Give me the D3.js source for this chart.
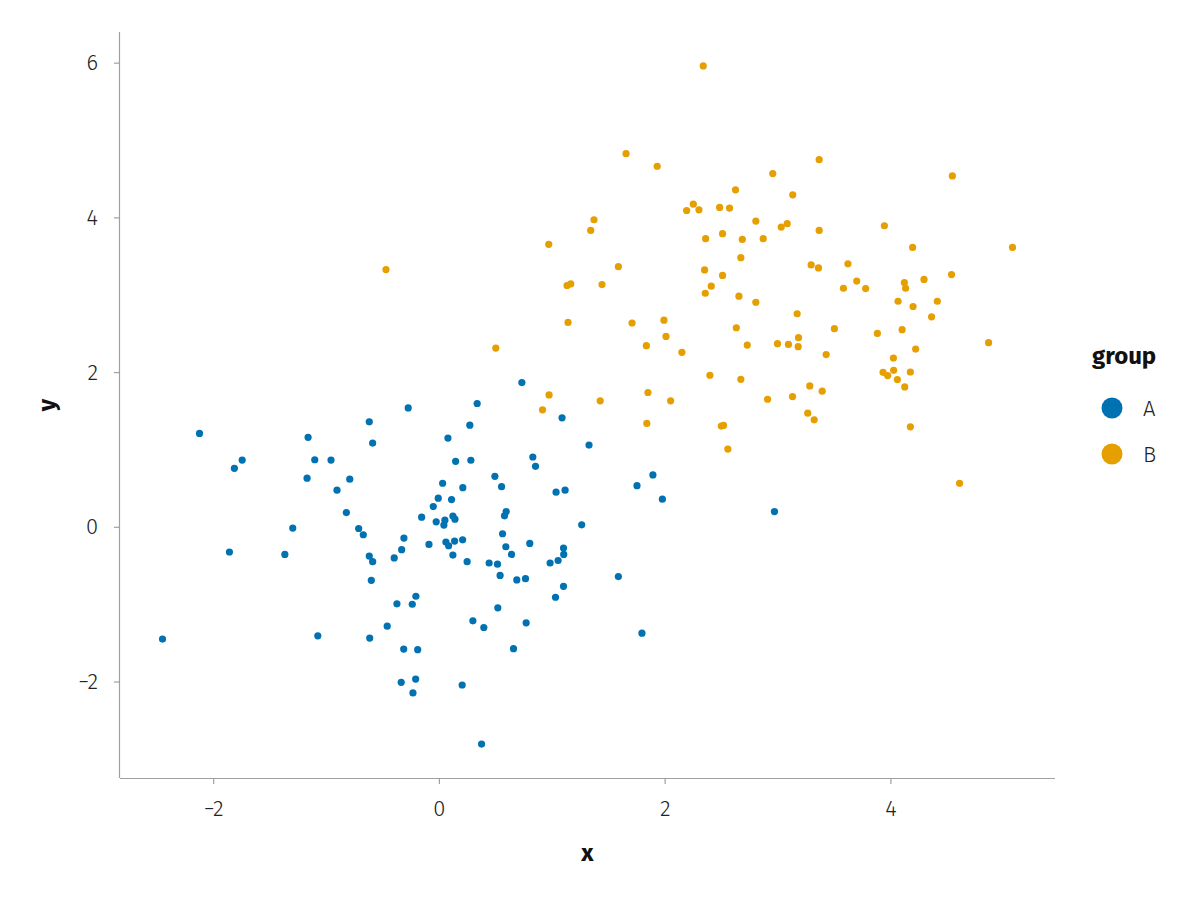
<!DOCTYPE html>
<html>
<head>
<meta charset="utf-8">
<script src="https://cdn.jsdelivr.net/npm/d3@7"></script>
<style>
  html, body { margin: 0; padding: 0; background: #fff; }
  svg text { font-family: "Fira Sans", "Open Sans", "Noto Sans", sans-serif; }
</style>
</head>
<body>
<svg id="chart" width="1200" height="900"></svg>
<script>
const groups = ["A", "B"];
const groupColors = ["#0072B2", "#E69F00"];
const xTicks = [-2, 0, 2, 4];
const yTicks = [-2, 0, 2, 4, 6];

const xA = [-2.121,-1.743,-1.812,-1.856,-1.159,-1.100,-0.956,-1.168,-0.790,-0.903,-0.820,-1.295,-0.711,-1.365,-2.449,-1.073,0.735,-0.272,0.339,-0.617,1.091,-0.587,0.274,0.080,0.148,0.283,0.832,0.856,0.496,0.555,0.033,0.212,1.038,1.118,-0.006,0.112,-0.050,-0.153,0.596,0.581,0.124,0.142,0.053,-0.024,0.044,-0.670,1.265,-0.310,-0.330,-0.088,0.062,0.086,0.139,0.210,0.564,0.805,0.593,0.643,1.104,1.106,-0.617,-0.396,0.124,-0.587,0.250,0.445,0.519,0.985,1.056,-0.599,0.542,0.690,0.767,1.104,1.033,-0.204,-0.372,-0.236,0.522,0.301,0.398,0.773,-0.458,-0.613,-0.312,-0.188,0.661,-0.334,-0.206,-0.230,0.206,0.378,1.330,1.896,1.755,1.980,2.973,1.590,1.799];
const yA = [1.207,0.863,0.756,-0.326,1.156,0.867,0.863,0.628,0.615,0.473,0.184,-0.017,-0.022,-0.357,-1.452,-1.409,1.865,1.537,1.594,1.357,1.409,1.082,1.314,1.147,0.847,0.860,0.902,0.782,0.653,0.519,0.563,0.506,0.447,0.473,0.370,0.352,0.262,0.125,0.197,0.142,0.138,0.099,0.086,0.064,0.022,-0.103,0.026,-0.146,-0.296,-0.228,-0.197,-0.245,-0.184,-0.168,-0.090,-0.215,-0.258,-0.357,-0.274,-0.357,-0.378,-0.403,-0.365,-0.451,-0.451,-0.468,-0.483,-0.468,-0.436,-0.692,-0.628,-0.687,-0.670,-0.769,-0.911,-0.898,-0.996,-1.001,-1.048,-1.215,-1.302,-1.241,-1.285,-1.439,-1.581,-1.589,-1.576,-2.010,-1.968,-2.148,-2.045,-2.809,1.057,0.670,0.532,0.357,0.197,-0.644,-1.375];

const xB = [-0.469,1.658,1.934,1.374,1.345,0.973,1.590,2.342,3.369,2.958,2.628,3.135,2.254,2.195,2.304,2.487,2.575,2.808,3.033,3.086,3.369,2.363,2.513,2.688,2.873,2.675,2.354,2.513,3.298,3.363,3.624,4.549,3.947,4.197,5.082,4.542,4.298,3.702,1.135,1.168,1.445,1.144,1.711,1.838,0.504,0.976,0.918,1.429,1.852,1.842,2.413,2.360,2.658,2.808,3.584,3.174,1.994,2.012,2.635,2.732,3.000,3.097,3.186,3.183,3.504,3.431,2.153,2.401,2.675,3.286,3.396,2.053,2.912,3.133,3.268,3.325,2.502,2.522,2.560,3.781,4.124,4.135,4.068,4.201,4.416,4.365,3.885,4.104,4.224,4.870,4.027,3.935,3.976,4.029,4.062,4.177,4.127,4.177,4.613];
const yB = [3.325,4.823,4.661,3.969,3.831,3.651,3.363,5.958,4.746,4.566,4.356,4.291,4.171,4.089,4.098,4.128,4.120,3.952,3.875,3.918,3.831,3.724,3.789,3.715,3.724,3.479,3.321,3.250,3.385,3.347,3.399,4.536,3.892,3.612,3.612,3.260,3.198,3.177,3.119,3.140,3.131,2.642,2.633,2.341,2.311,1.705,1.512,1.628,1.736,1.336,3.110,3.019,2.981,2.903,3.084,2.754,2.671,2.461,2.573,2.349,2.367,2.358,2.445,2.329,2.561,2.226,2.255,1.959,1.907,1.821,1.753,1.628,1.649,1.684,1.469,1.383,1.302,1.311,1.005,3.080,3.157,3.084,2.916,2.848,2.916,2.715,2.500,2.548,2.298,2.380,2.182,1.997,1.955,2.023,1.903,2.001,1.808,1.293,0.563];

const seriesX = [xA, xB];
const seriesY = [yA, yB];

const points = [];
groups.forEach((g, gi) => {
  seriesX[gi].forEach((xv, i) => points.push({ group: g, x: xv, y: seriesY[gi][i] }));
});

const plotL = 120, plotR = 1055, plotT = 32, plotB = 778;

function padded(ext) {
  const p = (ext[1] - ext[0]) * 0.05;
  return [ext[0] - p, ext[1] + p];
}
const x = d3.scaleLinear().domain(padded(d3.extent(points, d => d.x))).range([plotL, plotR]);
const y = d3.scaleLinear().domain(padded(d3.extent(points, d => d.y))).range([plotB, plotT]);
const color = d3.scaleOrdinal().domain(groups).range(groupColors);

const svg = d3.select("#chart");
const axisColor = "#a0a0a0";
const fmt = d => (d < 0 ? "\u2212" + Math.abs(d) : String(d));

// x axis
const gx = svg.append("g").attr("transform", `translate(0,${plotB})`)
  .call(d3.axisBottom(x).tickValues(xTicks).tickFormat(fmt).tickSize(6).tickPadding(16).tickSizeOuter(0));
gx.select(".domain").attr("stroke", axisColor).attr("stroke-width", 1.2).attr("d", `M${plotL},0.5H${plotR}`);
gx.selectAll(".tick line").attr("stroke", axisColor).attr("stroke-width", 1.2);
gx.selectAll(".tick text").attr("font-size", 22).attr("font-weight", 300).attr("fill", "#222");

// y axis
const gy = svg.append("g").attr("transform", `translate(${plotL},0)`)
  .call(d3.axisLeft(y).tickValues(yTicks).tickFormat(fmt).tickSize(6).tickPadding(16).tickSizeOuter(0));
gy.select(".domain").attr("stroke", axisColor).attr("stroke-width", 1.2).attr("d", `M-0.5,${plotT}V${plotB}`);
gy.selectAll(".tick line").attr("stroke", axisColor).attr("stroke-width", 1.2);
gy.selectAll(".tick text").attr("font-size", 22).attr("font-weight", 300).attr("fill", "#222");

// axis labels
svg.append("text").attr("x", (plotL + plotR) / 2).attr("y", 861)
  .attr("text-anchor", "middle").attr("font-size", 24).attr("font-weight", 700).attr("fill", "#111").text("x");
svg.append("text").attr("transform", `translate(55,${(plotT + plotB) / 2}) rotate(-90)`)
  .attr("text-anchor", "middle").attr("font-size", 24).attr("font-weight", 700).attr("fill", "#111").text("y");

// points
svg.append("g").selectAll("circle").data(points).join("circle")
  .attr("cx", d => x(d.x)).attr("cy", d => y(d.y)).attr("r", 3.6)
  .attr("fill", d => color(d.group));

// legend
const lg = svg.append("g");
lg.append("text").attr("x", 1092).attr("y", 364).attr("font-size", 24).attr("font-weight", 700)
  .attr("fill", "#111").text("group");
groups.forEach((g, i) => {
  const cy = 408 + i * 46;
  lg.append("circle").attr("cx", 1112).attr("cy", cy).attr("r", 10.5).attr("fill", color(g));
  lg.append("text").attr("x", 1143).attr("y", cy + 8).attr("font-size", 22).attr("font-weight", 300)
    .attr("fill", "#222").text(g);
});
</script>
</body>
</html>
